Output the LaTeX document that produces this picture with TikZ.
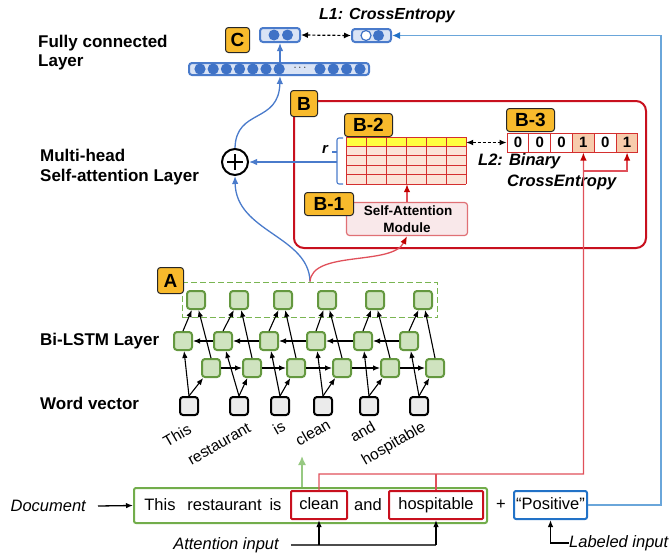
\documentclass[tikz,border=0pt]{standalone}
\usepackage{fontspec}
\setmainfont{Liberation Sans}
\usetikzlibrary{arrows.meta,calc}
\definecolor{orng}{HTML}{F8BA2C}
\definecolor{gborder}{HTML}{64983F}
\definecolor{gfill}{HTML}{CFE3BF}
\definecolor{gdash}{HTML}{7AB552}
\definecolor{gdoc}{HTML}{72AD4B}
\definecolor{garrow}{HTML}{97C982}
\definecolor{fcblue}{HTML}{4A7BCB}
\definecolor{fcfill}{HTML}{D9E3F5}
\definecolor{fccirc}{HTML}{3F72C6}
\definecolor{loopblue}{HTML}{6AA6DA}
\definecolor{posblue}{HTML}{2272C7}
\definecolor{bred}{HTML}{C8101E}
\definecolor{mred}{HTML}{D42F2F}
\definecolor{pch}{HTML}{FBE4D8}
\definecolor{ylw}{HTML}{FFFF40}
\definecolor{onefill}{HTML}{F7CBAC}
\definecolor{modfill}{HTML}{F9E8EA}
\definecolor{modred}{HTML}{E07075}
\definecolor{rline}{HTML}{E0505A}
\definecolor{rtip}{HTML}{C00000}
\definecolor{wfill}{HTML}{EBEBEB}
\begin{document}
\begin{tikzpicture}[x=1pt,y=-1pt,
  lbl/.style={font=\fontsize{17}{19.5}\selectfont\bfseries, align=left, inner sep=0pt, anchor=west},
  badge/.style={draw=black!85, fill=orng, line width=1pt, rounded corners=3pt, font=\fontsize{19}{19}\selectfont\bfseries, inner sep=0pt},
  gbox/.style={draw=gborder, fill=gfill, line width=2pt, rounded corners=3pt, minimum size=18pt, inner sep=0pt},
  wbox/.style={draw=black, fill=wfill, line width=2pt, rounded corners=3pt, minimum size=18pt, inner sep=0pt},
  arr/.style={-{Latex[length=7pt,width=5.5pt]}, line width=1.1pt},
  wlab/.style={rotate=30, anchor=north east, inner sep=0pt, font=\fontsize{15.5}{16}\selectfont},
  itl/.style={font=\fontsize{16.5}{18}\selectfont\itshape, inner sep=0pt},
  bitl/.style={font=\fontsize{16}{18}\selectfont\bfseries\itshape, inner sep=0pt},
  doct/.style={font=\fontsize{16.5}{18}\selectfont, inner sep=1pt, text height=12pt, text depth=3.5pt},
  barr/.style={draw=fcblue, line width=1.3pt, -{Latex[length=8pt,width=6.5pt]}},
  rarr/.style={draw=rline, line width=1.3pt, -{Latex[length=8pt,width=6.5pt,color=rtip]}},
  dasharr/.style={{Latex[length=7pt,width=6pt]}-{Latex[length=7pt,width=6pt]}, line width=1.2pt, dash pattern=on 3pt off 2pt},
  vcell/.style={draw=mred, line width=1pt, minimum width=21.83pt, minimum height=19pt, inner sep=0pt, font=\fontsize{15}{15}\selectfont\bfseries}
]
\useasboundingbox (0,0) rectangle (671,557);

% ---------- left labels ----------
\node[lbl] (lfc) at (38,52.5) {Fully connected\\Layer};
\node[lbl] (lmh) at (40,167) {Multi-head\\Self-attention Layer};
\node[lbl] (llstm) at (40,341) {Bi-LSTM Layer};
\node[lbl] (lwv) at (40,403) {Word vector};

% ---------- fully connected layer ----------
\node[draw=fcblue, fill=fcfill, line width=2pt, rounded corners=3pt, minimum width=180pt, minimum height=12pt, inner sep=0pt] (fc) at (279,69) {};
\foreach \x in {200,213.2,226.4,239.6,252.8,266,279.2,320,333.3,346.6,360}
  \fill[fccirc] (\x,69) circle (5.6);
\node[font=\fontsize{11}{11}\selectfont, inner sep=0pt] (fcdots) at (300,68) {$\cdots$};

\node[draw=fcblue, fill=fcfill, line width=2pt, rounded corners=3pt, minimum width=40pt, minimum height=14pt, inner sep=0pt] (c1) at (280,35) {};
\fill[fccirc] (274,35) circle (5.5);
\fill[fccirc] (287.5,35) circle (5.5);
\node[draw=fcblue, fill=fcfill, line width=2pt, rounded corners=3pt, minimum width=39pt, minimum height=13pt, inner sep=0pt] (c2) at (371.5,35.5) {};
\draw[fccirc, fill=white, line width=1.2pt] (366,35.5) circle (5);
\fill[fccirc] (378.5,35.5) circle (5.5);

\node[bitl] (l1) at (387,16) {L1: CrossEntropy};
\draw[dasharr] (c1.east) -- (c2.east -| c2.west);

\draw[barr] (c1.south |- fc.north) -- (c1.south);

% ---------- box B ----------
\node[draw=bred, line width=2pt, rounded corners=10pt, minimum width=352pt, minimum height=147pt, inner sep=0pt] (bbox) at (470,174.5) {};

% matrix B-2
\fill[ylw] (346,137) rectangle (466,146.4);
\fill[pch] (346,146.4) rectangle (466,184);
\foreach \x in {346,366,...,466} \draw[mred, line width=1pt] (\x,137) -- (\x,184);
\foreach \y in {137,146.4,155.8,165.2,174.6,184} \draw[mred, line width=1pt] (346,\y) -- (466,\y);
\node[minimum width=120pt, minimum height=47pt, inner sep=0pt] (mat) at (406,160.5) {};

% brace r
\draw[fcblue, line width=1.1pt, rounded corners=2pt] (343,138) -- (337,138) -- (337,184) -- (343,184);
\draw[fcblue, line width=1.1pt] (337,152) -- (332,152);
\node[font=\fontsize{15}{15}\selectfont\bfseries\itshape, inner sep=0pt] (rlab) at (325,149) {r};
\coordinate (brc) at (337,162);

% self attention module
\node[draw=modred, fill=modfill, line width=1.2pt, rounded corners=3pt, minimum width=121pt, minimum height=33pt, align=center, font=\fontsize{13.5}{16.5}\selectfont\bfseries, inner sep=0pt] (sam) at (407,219) {\hspace*{2pt}Self-Attention\\Module};
\draw[rarr] (sam.north) -- (sam.north |- mat.south);

% vector B-3
\foreach \i/\v/\f in {1/0/white,2/0/white,3/0/white,4/1/onefill,5/0/white,6/1/onefill}
  \node[vcell, fill=\f] (v\i) at ({507+(\i-0.5)*21.83},142.5) {\v};
\draw[dasharr] (v1.west -| mat.east) -- (v1.west);
\node[bitl, font=\fontsize{16.5}{18}\selectfont\bfseries\itshape, anchor=west] (l2a) at (478,161) {L2: Binary};
\node[bitl, font=\fontsize{16.5}{18}\selectfont\bfseries\itshape, anchor=west] (l2b) at (507,182) {CrossEntropy};

% plus
\node[circle, draw, line width=2pt, minimum size=26pt, inner sep=0pt] (plus) at (235,162) {};
\draw[line width=2pt] ($(plus.center)+(-8,0)$) -- ($(plus.center)+(8,0)$);
\draw[line width=2pt] ($(plus.center)+(0,-8)$) -- ($(plus.center)+(0,8)$);
\draw[barr] (brc) -- (plus.east);
\draw[barr] (plus.north) .. controls (236,108) and (279,124) .. (c1.south |- fc.south);

% ---------- LSTM ----------
\node[draw=gdash, line width=1.8pt, dash pattern=on 6pt off 3pt, minimum width=255pt, minimum height=35pt, inner sep=0pt] (abox) at (310,300) {};
\foreach \i/\x in {1/196,2/239,3/283,4/327,5/375,6/423} \node[gbox] (a\i) at (\x,300) {};
\foreach \i/\x in {1/183,2/223,3/269,4/316,5/363,6/409} \node[gbox] (b\i) at (\x,341) {};
\foreach \i/\x in {1/211,2/252,3/296,4/342,5/390,6/435} \node[gbox] (f\i) at (\x,368) {};
\foreach \i/\x in {1/189,2/239,3/280,4/323,5/369,6/419} \node[wbox] (w\i) at (\x,406) {};
\foreach \i in {1,...,6} {
  \draw[arr] (w\i.north) -- (b\i);
  \draw[arr] (w\i.north) -- (f\i);
  \draw[arr] (f\i.north) -- (a\i);
  \draw[arr] (b\i.north) -- (a\i);
}
\foreach \i/\j in {1/2,2/3,3/4,4/5,5/6} {
  \draw[arr] (f\i) -- (f\j);
  \draw[arr] (b\j) -- (b\i);
}
\node[wlab] (t1) at (187,423) {This};
\node[wlab] (t2) at (247,422) {restaurant};
\node[wlab] (t3) at (281,420) {is};
\node[wlab] (t4) at (326,418) {clean};
\node[wlab] (t5) at (371,420) {and};
\node[wlab] (t6) at (421,420) {hospitable};

\draw[barr] (abox.north) .. controls (309,236) and (236,232) .. (plus.south);
\draw[rarr] (abox.north) .. controls (312,250) and (392,266) .. (sam.south);

% ---------- bottom document ----------
\node[draw=gdoc, line width=2pt, rounded corners=2pt, minimum width=353pt, minimum height=35pt, inner sep=0pt] (doc) at (310.5,505.5) {};
\node[doct] (d1) at (160,506.5) {This};
\node[doct] (d2) at (224.5,506.5) {restaurant};
\node[doct] (d3) at (275.5,506.5) {is};
\node[doct, draw=bred, line width=2pt, rounded corners=1pt, minimum width=56pt, minimum height=28pt] (clean) at (319,505) {clean};
\node[doct] (d5) at (368,506.5) {and};
\node[doct, draw=bred, line width=2pt, rounded corners=1pt, minimum width=94pt, minimum height=28pt] (hosp) at (436,505) {hospitable};
\node[doct] (plusb) at (501,505) {+};
\node[doct, draw=posblue, line width=2pt, rounded corners=2pt, minimum width=73pt, minimum height=28pt] (pos) at (550.5,505) {“Positive”};

\coordinate (wordsend) at (302,456);
\draw[draw=garrow, line width=1.5pt, -{Latex[length=9pt,width=8pt]}] (doc.north -| wordsend) -- (wordsend);

\node[itl, anchor=east] (docl) at (86,506) {Document};
\draw[arr, line width=1.3pt] ([xshift=12pt]docl.east) -- (doc.west);

\node[itl] (attl) at (226,545) {Attention input};
\draw[black!70, line width=1.5pt] ([xshift=12pt]attl.east) -- (hosp.south |- attl.east);
\draw[arr, line width=1.5pt] (clean.south |- attl.east) -- (clean.south);
\draw[arr, line width=1.5pt] (hosp.south |- attl.east) -- (hosp.south);

\node[itl, anchor=west] (labl) at (569,543) {Labeled input};
\draw[arr, line width=1.3pt] (labl.west) -| (pos.south);

% red connections
\coordinate (rj) at (583.4,474);
\draw[rarr] (clean.north) |- (rj) -- (v4.south);
\draw[draw=rline, line width=1.3pt] (hosp.north) -- (hosp.north |- rj);
\draw[rarr] (v4.south |- 0,171) -| (v6.south);

% blue loop
\coordinate (loopc) at (661,35.5);
\draw[draw=loopblue, line width=1.6pt, -{Latex[length=8pt,width=7pt,color=posblue]}] (pos.east) -| (loopc) -- (c2.east);

% ---------- badges ----------
\node[badge, minimum width=24pt, minimum height=25pt] (bc) at (237.5,40) {C};
\node[badge, minimum width=27pt, minimum height=26pt] (bb) at (304,103.5) {B};
\node[badge, minimum width=48pt, minimum height=23pt] (bb2) at (368.5,125) {B-2};
\node[badge, minimum width=49pt, minimum height=23pt] (bb1) at (329,204) {B-1};
\node[badge, minimum width=48pt, minimum height=23pt] (bb3) at (530.5,120) {B-3};
\node[badge, minimum width=26pt, minimum height=26pt] (ba) at (170.5,280.5) {A};
\end{tikzpicture}
\end{document}
